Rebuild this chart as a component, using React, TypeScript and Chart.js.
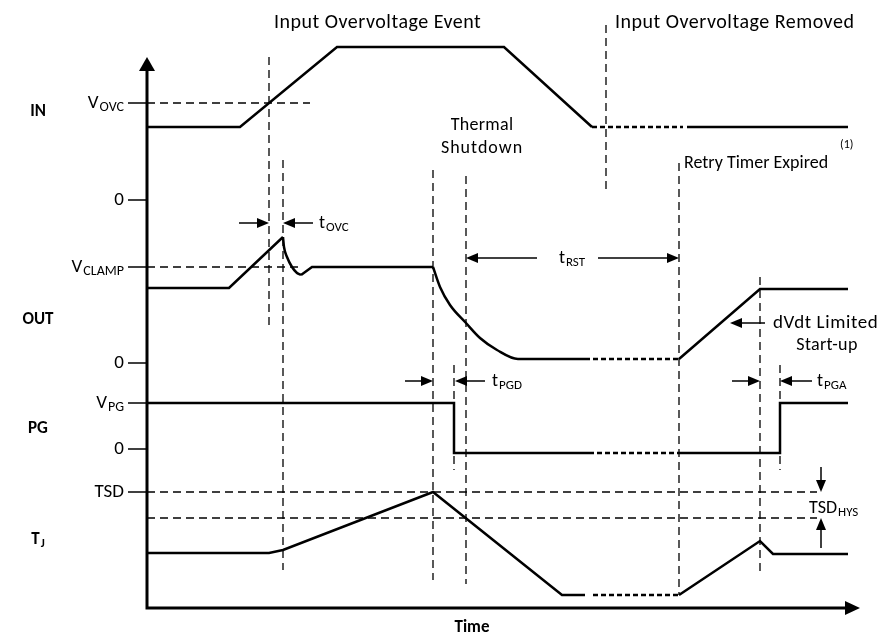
import React, { useEffect, useRef } from "react";
import { Chart, registerables } from "chart.js";

Chart.register(...registerables);

const FONT = "Carlito, Lato, 'Open Sans', sans-serif";

// Axis extents (arbitrary time / level units)
const X_MAX = 71.3;
const Y_MAX = 58.8;
const Y_ARROW_TIP = 55.1;

// IN waveform
const inT = [0, 9.3, 19.0, 35.7, 44.5];
const inV = [48.1, 48.1, 56.1, 56.1, 48.1];
const inDotT = [44.5, 53.6];
const inDotV = [48.1, 48.1];
const inEndT = [54.0, 70.1];
const inEndV = [48.1, 48.1];

// OUT waveform
const outRiseT = [0, 8.2, 13.6];
const outRiseV = [32.0, 32.0, 37.1];
const outDropT = [13.6, 13.7, 14.0, 14.5, 15.0, 15.4];
const outDropV = [37.1, 36.1, 35.1, 34.1, 33.5, 33.3];
const outClampT = [15.4, 16.5, 28.6];
const outClampV = [33.3, 34.1, 34.1];
const outDecayT = [28.6, 29.3, 30.3, 31.9, 33.3, 35.0, 37.1, 43.8];
const outDecayV = [34.1, 32.1, 30.3, 28.5, 27.0, 25.8, 24.9, 24.9];
const outDotT = [43.8, 53.2];
const outDotV = [24.9, 24.9];
const outStartT = [53.2, 61.3, 70.1];
const outStartV = [24.9, 31.9, 31.9];

// PG waveform
const pgT = [0, 30.7, 30.7, 44.2];
const pgV = [20.5, 20.5, 15.5, 15.5];
const pgDotT = [44.2, 53.2];
const pgDotV = [15.5, 15.5];
const pgEndT = [53.2, 63.3, 63.3, 70.1];
const pgEndV = [15.5, 15.5, 20.5, 20.5];

// TJ waveform
const tjT = [0, 12.2, 13.6, 28.6, 41.5, 43.8];
const tjV = [5.5, 5.5, 5.8, 11.6, 1.3, 1.3];
const tjDotT = [44.6, 53.2];
const tjDotV = [1.3, 1.3];
const tjEndT = [53.2, 61.3, 62.6, 70.1];
const tjEndV = [1.3, 6.7, 5.4, 5.4];

// Vertical dashed event markers
const markerT = [12.2, 13.6, 28.6, 31.9, 45.9, 30.7, 53.2, 61.3, 63.3];
const markerTop = [55.1, 44.8, 43.8, 43.2, 58.3, 24.3, 44.5, 33.1, 24.3];
const markerBottom = [27.8, 3.8, 2.8, 2.4, 41.6, 13.8, 1.3, 3.6, 13.8];

// Horizontal dashed threshold levels
const thresholdV = [50.5, 34.1, 11.6, 9.0];
const thresholdEnd = [16.3, 15.4, 67.0, 67.0];

// Y tick levels and labels [main, subscript]
const tickV = [50.5, 40.8, 34.1, 24.5, 20.5, 15.9, 11.6];
const tickLabels: [string, string][] = [
  ["V", "OVC"], ["0", ""], ["V", "CLAMP"], ["0", ""], ["V", "PG"], ["0", ""], ["TSD", ""],
];

// Signal names
const signalV = [49.6, 28.8, 17.9, 6.8];
const signalNames: [string, string][] = [["IN", ""], ["OUT", ""], ["PG", ""], ["T", "J"]];

// Horizontal dimension arrows: from, to (arrow head), level
const dimFrom = [9.2, 16.6, 39.0, 45.1, 61.8, 25.8, 33.8, 58.5, 66.5];
const dimTo = [12.2, 13.6, 31.9, 53.2, 58.3, 28.6, 30.8, 61.3, 63.3];
const dimLevel = [38.5, 38.5, 35.0, 35.0, 28.5, 22.7, 22.7, 22.7, 22.7];

// Vertical hysteresis arrows
const hysT = 67.4;
const hysFrom = [14.1, 6.0];
const hysTo = [11.6, 9.0];

// Annotation texts [main, subscript] and their anchor (time, level)
const noteText: [string, string][] = [
  ["Input Overvoltage Event", ""],
  ["Input Overvoltage Removed", ""],
  ["Thermal", ""],
  ["Shutdown", ""],
  ["Retry Timer Expired", ""],
  ["(1)", ""],
  ["t", "OVC"],
  ["t", "RST"],
  ["dVdt Limited", ""],
  ["Start-up", ""],
  ["t", "PGD"],
  ["t", "PGA"],
  ["TSD", "HYS"],
  ["Time", ""],
];
const noteT = [12.7, 46.8, 33.5, 33.5, 53.7, 69.3, 17.2, 42.5, 62.6, 68.0, 34.5, 67.0, 66.2, 32.5];
const noteV = [58.5, 58.5, 48.3, 46.0, 44.5, 46.3, 38.5, 35.0, 28.5, 26.3, 22.7, 22.7, 10.0, -2.0];

// Styling for each annotation (align, font size, weight, letter spacing)
const noteStyle: { a: CanvasTextAlign; f: number; w: string; ls: number }[] = [
  { a: "left", f: 20, w: "", ls: 0.5 },
  { a: "left", f: 20, w: "", ls: 0.5 },
  { a: "center", f: 18, w: "", ls: 0.3 },
  { a: "center", f: 18, w: "", ls: 1 },
  { a: "left", f: 18, w: "", ls: 0 },
  { a: "left", f: 12, w: "", ls: 0 },
  { a: "left", f: 18, w: "", ls: 0 },
  { a: "center", f: 18, w: "", ls: 0 },
  { a: "left", f: 19, w: "", ls: 0.6 },
  { a: "center", f: 18, w: "", ls: 0.3 },
  { a: "left", f: 18, w: "", ls: 0 },
  { a: "left", f: 18, w: "", ls: 0 },
  { a: "left", f: 18, w: "", ls: 0 },
  { a: "center", f: 17, w: "bold", ls: 0 },
];

const pts = (ts: number[], vs: number[]) => ts.map((t, i) => ({ x: t, y: vs[i] }));

function drawSub(
  ctx: any, main: string, sub: string, x: number, y: number,
  align: CanvasTextAlign, mainFont: string, subFont: string, drop: number, ls = 0
) {
  ctx.letterSpacing = `${ls}px`;
  ctx.font = mainFont;
  const wm = ctx.measureText(main).width;
  ctx.letterSpacing = "0px";
  ctx.font = subFont;
  const ws = sub ? ctx.measureText(sub).width + 1 : 0;
  const total = wm + ws;
  let x0 = x;
  if (align === "center") x0 = x - total / 2;
  else if (align === "right") x0 = x - total;
  ctx.textAlign = "left";
  ctx.textBaseline = "middle";
  ctx.letterSpacing = `${ls}px`;
  ctx.font = mainFont;
  ctx.fillText(main, x0, y);
  ctx.letterSpacing = "0px";
  if (sub) {
    ctx.font = subFont;
    ctx.fillText(sub, x0 + wm + 1, y + drop);
  }
}

const overlay = {
  id: "overlay",
  afterDraw(chart: any) {
    const { ctx } = chart;
    const xs = chart.scales.x;
    const ys = chart.scales.y;
    const X = (t: number) => xs.getPixelForValue(t);
    const Y = (v: number) => ys.getPixelForValue(v);
    ctx.save();
    ctx.fillStyle = "#000";
    ctx.strokeStyle = "#000";
    ctx.setLineDash([]);

    // axes
    ctx.lineWidth = 3;
    ctx.beginPath();
    ctx.moveTo(X(0), Y(0) + 1.5);
    ctx.lineTo(X(0), Y(Y_ARROW_TIP) + 12);
    ctx.moveTo(X(0) - 1.5, Y(0));
    ctx.lineTo(X(X_MAX) - 12, Y(0));
    ctx.stroke();
    ctx.beginPath();
    ctx.moveTo(X(0), Y(Y_ARROW_TIP));
    ctx.lineTo(X(0) - 8, Y(Y_ARROW_TIP) + 14);
    ctx.lineTo(X(0) + 8, Y(Y_ARROW_TIP) + 14);
    ctx.closePath();
    ctx.fill();
    ctx.beginPath();
    ctx.moveTo(X(X_MAX), Y(0));
    ctx.lineTo(X(X_MAX) - 15, Y(0) - 7);
    ctx.lineTo(X(X_MAX) - 15, Y(0) + 7);
    ctx.closePath();
    ctx.fill();

    // ticks
    ctx.lineWidth = 1.5;
    tickV.forEach((v) => {
      ctx.beginPath();
      ctx.moveTo(X(0) - 19, Y(v));
      ctx.lineTo(X(0), Y(v));
      ctx.stroke();
    });
    tickV.forEach((v, i) => {
      const [m, s] = tickLabels[i];
      drawSub(ctx, m, s, X(0) - 23, Y(v), "right", `19px ${FONT}`, `14px ${FONT}`, 4);
    });
    signalV.forEach((v, i) => {
      const [m, s] = signalNames[i];
      drawSub(ctx, m, s, 38, Y(v), "center", `bold 17px ${FONT}`, `bold 12px ${FONT}`, 4);
    });

    // dimension arrows
    const head = (tx: number, ty: number, dx: number, dy: number) => {
      const L = 12, H = 5;
      ctx.beginPath();
      ctx.moveTo(tx, ty);
      ctx.lineTo(tx - dx * L - dy * H, ty - dy * L + dx * H);
      ctx.lineTo(tx - dx * L + dy * H, ty - dy * L - dx * H);
      ctx.closePath();
      ctx.fill();
    };
    ctx.lineWidth = 1.5;
    dimFrom.forEach((f, i) => {
      const x1 = X(f), x2 = X(dimTo[i]), yy = Y(dimLevel[i]);
      const d = x2 > x1 ? 1 : -1;
      ctx.beginPath();
      ctx.moveTo(x1, yy);
      ctx.lineTo(x2 - d * 10, yy);
      ctx.stroke();
      head(x2, yy, d, 0);
    });
    hysFrom.forEach((f, i) => {
      const y1 = Y(f), y2 = Y(hysTo[i]), xx = X(hysT);
      const d = y2 > y1 ? 1 : -1;
      ctx.beginPath();
      ctx.moveTo(xx, y1);
      ctx.lineTo(xx, y2 - d * 10);
      ctx.stroke();
      head(xx, y2, 0, d);
    });

    // annotations
    noteText.forEach(([m, s], i) => {
      const st = noteStyle[i];
      const mf = `${st.w} ${st.f}px ${FONT}`.trim();
      drawSub(ctx, m, s, X(noteT[i]), Y(noteV[i]), st.a, mf, `13px ${FONT}`, 5, st.ls);
    });
    ctx.restore();
  },
};

export default function App() {
  const ref = useRef<HTMLCanvasElement | null>(null);
  useEffect(() => {
    if (!ref.current) return;
    const sig = (ts: number[], vs: number[], extra: any = {}) => ({
      data: pts(ts, vs), showLine: true, pointRadius: 0, borderColor: "#000",
      borderWidth: 2.5, fill: false, clip: false, ...extra,
    });
    const dot = { borderDash: [5, 3] };
    const curve = { cubicInterpolationMode: "monotone" };
    const guide = { borderWidth: 1.3, borderDash: [8, 5] };
    const datasets: any[] = [
      sig(inT, inV), sig(inDotT, inDotV, dot), sig(inEndT, inEndV),
      sig(outRiseT, outRiseV), sig(outDropT, outDropV, curve), sig(outClampT, outClampV),
      sig(outDecayT, outDecayV, curve), sig(outDotT, outDotV, dot), sig(outStartT, outStartV),
      sig(pgT, pgV), sig(pgDotT, pgDotV, dot), sig(pgEndT, pgEndV),
      sig(tjT, tjV), sig(tjDotT, tjDotV, dot), sig(tjEndT, tjEndV),
    ];
    markerT.forEach((t, i) => datasets.push(sig([t, t], [markerTop[i], markerBottom[i]], guide)));
    thresholdV.forEach((v, i) => datasets.push(sig([0, thresholdEnd[i]], [v, v], guide)));

    const chart = new Chart(ref.current, {
      type: "scatter",
      data: { datasets },
      options: {
        animation: false,
        responsive: false,
        events: [],
        layout: { padding: { left: 147, right: 23, top: 20, bottom: 27 } },
        plugins: { legend: { display: false }, tooltip: { enabled: false } },
        scales: {
          x: { type: "linear", min: 0, max: X_MAX, display: false },
          y: { type: "linear", min: 0, max: Y_MAX, display: false },
        },
      },
      plugins: [overlay],
    });
    return () => chart.destroy();
  }, []);
  return (
    <div style={{ position: "absolute", left: 0, top: 0, width: 883, height: 635, background: "#fff" }}>
      <canvas ref={ref} width={883} height={635} />
    </div>
  );
}
